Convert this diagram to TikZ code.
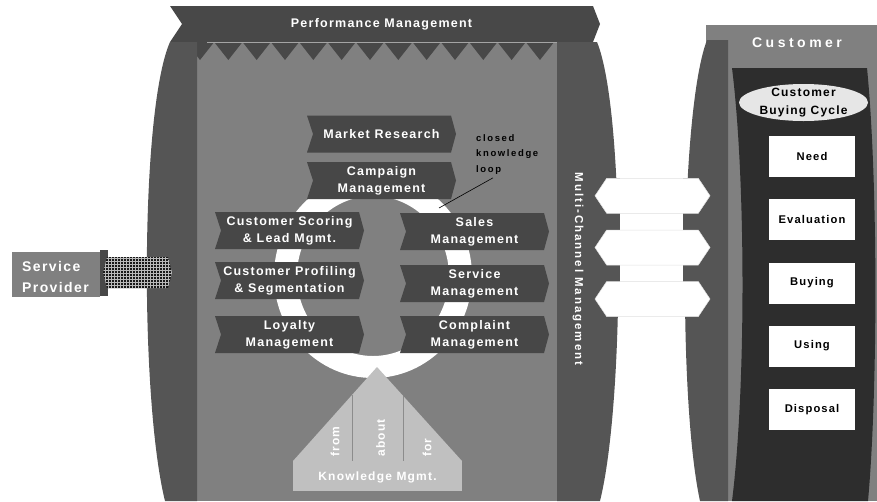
\documentclass[tikz,border=0pt]{standalone}
\usepackage{fontspec}
\setmainfont{Liberation Sans}
\newfontfamily\trackfont{Liberation Sans}[LetterSpace=10]
\newfontfamily\loosefont{Liberation Sans}[LetterSpace=17]
\newfontfamily\widefont{Liberation Sans}[LetterSpace=25]
\usetikzlibrary{patterns}

\definecolor{drumgray}{HTML}{555555}
\definecolor{bandgray}{HTML}{484848}
\definecolor{facegray}{HTML}{808080}
\definecolor{modgray}{HTML}{474747}
\definecolor{panelgray}{HTML}{2D2D2D}
\definecolor{knowgray}{HTML}{C0C0C0}
\definecolor{cyclegray}{HTML}{E6E6E6}

% chevron-shaped process module: name, centre x, centre y, label
\newcommand\chevbox[4]{%
  \begin{scope}[shift={(#2,#3)}]
    \fill[modfill] (-74.5,-18.5) -- (69.5,-18.5) -- (74.5,0) -- (69.5,18.5)
      -- (-74.5,18.5) -- (-68.5,0) -- cycle;
    \node[modlabel] (#1) at (0,0) {#4};
  \end{scope}}

\begin{document}
\begin{tikzpicture}[x=1pt,y=-1pt,
  modfill/.style={fill=modgray},
  modlabel/.style={text=white, align=center, inner sep=0,
    font=\trackfont\bfseries\fontsize{12.5}{17}\selectfont},
  whitelabel/.style={text=white, align=center, inner sep=0,
    font=\trackfont\bfseries\fontsize{12.5}{17}\selectfont},
  rotlabel/.style={text=white, inner sep=0, anchor=west,
    font=\trackfont\bfseries\fontsize{12}{14}\selectfont},
  blacklabel/.style={text=black, align=center, inner sep=0,
    font=\trackfont\bfseries\fontsize{12}{18}\selectfont},
  stage/.style={fill=white, minimum width=86, minimum height=41, inner sep=0,
    text=black, font=\trackfont\bfseries\fontsize{11.2}{13}\selectfont},
  tab/.style={fill=white, draw=black!12, line width=0.5},
  mesh/.style={fill=black!90, postaction={pattern=grid, pattern color=gray!55}},
]
\useasboundingbox (0,0) rectangle (877,501);

% ---------- central barrel ----------
\fill[facegray] (197,42) rectangle (557,501);
% saw-tooth edge under the performance band
\fill[bandgray] (186,42) \foreach \i in {0,...,12} {
    -- ({200+28.33*\i},60) -- ({214.17+28.33*\i},42) } -- cycle;
\draw[black!30, line width=0.6] (207,42) -- (557,42);
% performance band
\fill[bandgray] (170,6) -- (593,6) -- (600,24) -- (593,42) -- (170,42) -- (182,24) -- cycle;
\node[whitelabel] (pm) at (381.5,24.5) {Performance Management};

% left and right drum sides
\fill[drumgray] (170,42) -- (197,42) -- (197,501) -- (165,501)
  .. controls (140,400) and (140,110) .. (170,42) -- cycle;
\fill[drumgray] (557,42) -- (597,42) .. controls (625,110) and (625,400) .. (600,501)
  -- (557,501) -- cycle;
\fill[drumgray] (605,178) rectangle (620,316);
\node[text=white, inner sep=0, rotate=-90, font=\loosefont\bfseries\fontsize{11.5}{14}\selectfont]
  (mcm) at (578,269) {Multi-Channel Management};

% ---------- customer side ----------
\fill[facegray] (706,25) rectangle (877,501);
\fill[drumgray] (728,40) -- (707,40) .. controls (680,110) and (678,400) .. (700,501)
  -- (728,501) -- cycle;
\fill[drumgray] (683,178) rectangle (700,316);
\fill[panelgray] (732,68) -- (867,68) .. controls (878,180) and (878,390) .. (868,501)
  -- (732,501) .. controls (746,390) and (746,180) .. (732,68) -- cycle;
\node[text=white, inner sep=0, font=\widefont\bfseries\fontsize{14}{16}\selectfont]
  (cust) at (797,43) {Customer};

% channels between the two sides
\foreach \y in {195.8,247.5,299} {
  \fill[tab] (595,\y) -- (606.7,\y-17.5) -- (698.3,\y-17.5) -- (710,\y)
    -- (698.3,\y+17.5) -- (606.7,\y+17.5) -- cycle;
}

% buying cycle
\fill[cyclegray] (803.5,102.5) ellipse [x radius=64.5, y radius=18.5];
\node[blacklabel] (buyingcycle) at (803.5,102.5) {Customer\\Buying Cycle};
\node[stage] (need) at (812,156.5) {Need};
\node[stage] (evaluation) at (812,219.5) {Evaluation};
\node[stage] (buying) at (812,283) {Buying};
\node[stage] (using) at (812,346) {Using};
\node[stage] (disposal) at (812,409.5) {Disposal};

% ---------- closed knowledge loop ----------
\fill[white, even odd rule] (373,276) ellipse [x radius=99, y radius=102]
  (373,276) ellipse [x radius=76, y radius=80];

\chevbox{mr}{381.5}{134}{Market Research}
\chevbox{cm}{381.5}{180.5}{Campaign\\Management}
\chevbox{cs}{289.5}{230.5}{Customer Scoring\\\& Lead Mgmt.}
\chevbox{sm}{474.5}{231.5}{Sales\\Management}
\chevbox{cp}{289.5}{280.5}{Customer Profiling\\\& Segmentation}
\chevbox{sv}{474.5}{283.5}{Service\\Management}
\chevbox{lm}{289.5}{334.5}{Loyalty\\Management}
\chevbox{cpl}{474.5}{334.5}{Complaint\\Management}

\node[text=black, align=left, inner sep=0, anchor=west,
  font=\loosefont\bfseries\fontsize{9.5}{15.7}\selectfont]
  (loop) at (476,154.5) {closed\\knowledge\\loop};
\coordinate (loopend) at (439,208);
\draw[black, line width=0.6] ([xshift=17pt,yshift=-3pt]loop.south west) -- (loopend);

% ---------- knowledge management ----------
\fill[knowgray] (377,367) -- (462,461) -- (293,461) -- cycle;
\draw[black!45, line width=0.8] (352,395) -- (352,461) (403,396) -- (403,461);
\node[fill=knowgray, minimum width=169, minimum height=30, inner sep=0] (km)
  at (377.5,476) {};
\node[whitelabel, font=\trackfont\bfseries\fontsize{12}{14}\selectfont] (kmtext)
  at (377.5,477.5) {Knowledge Mgmt.};
\node[rotlabel, rotate=90] (from) at (335,457) {from};
\node[rotlabel, rotate=90] (about) at (380.5,457) {about};
\node[rotlabel, rotate=90] (for) at (427,457) {for};

% ---------- service provider ----------
\node[fill=facegray, minimum width=88, minimum height=45, inner sep=0] (sp)
  at (56,274.2) {};
\node[text=white, align=left, inner sep=0, anchor=west,
  font=\trackfont\bfseries\fontsize{14}{21}\selectfont]
  (sptext) at (22,276.5) {Service\\Provider};
\fill[bandgray] (99.5,250) rectangle (107.5,296);
\path[mesh] (107,257) -- (168,257) -- (172,272.5) -- (168,288) -- (107,288)
  -- (103,272.5) -- cycle;
\end{tikzpicture}
\end{document}
